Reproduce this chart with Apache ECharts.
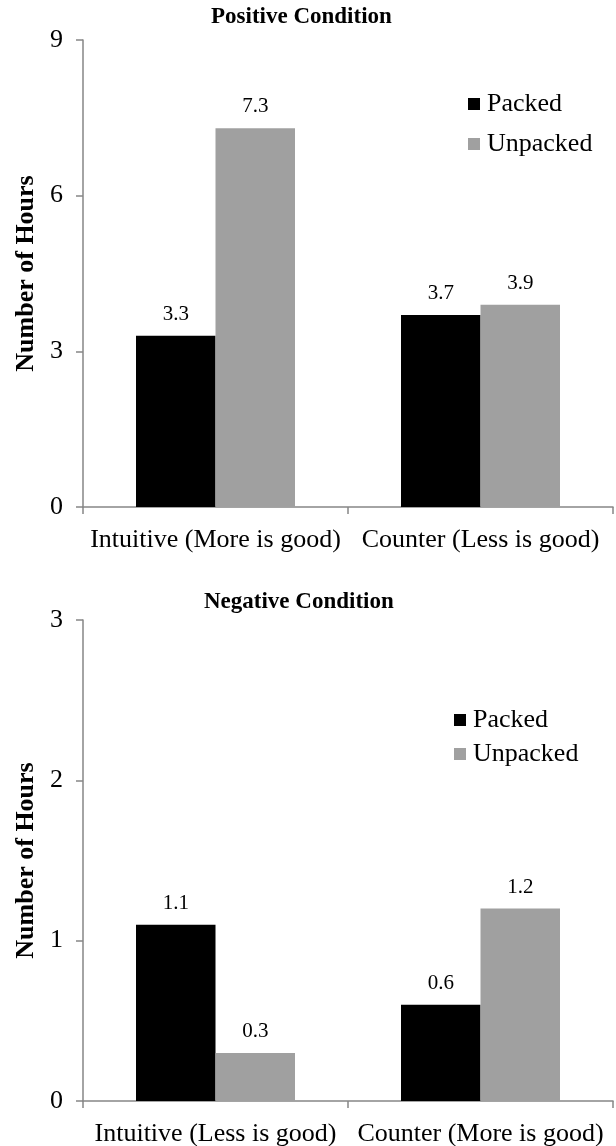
<!DOCTYPE html>
<html>
<head>
<meta charset="utf-8">
<script src="https://cdn.jsdelivr.net/npm/echarts@6/dist/echarts.min.js"></script>
<style>
  html, body { margin: 0; padding: 0; background: #fff; }
  #chart { width: 616px; height: 1146px; }
</style>
</head>
<body>
<div id="chart"></div>
<script>
// Hours reported per condition, packed vs unpacked descriptions
const positiveCategories = ['Intuitive (More is good)', 'Counter (Less is good)'];
const positivePacked = [3.3, 3.7];
const positiveUnpacked = [7.3, 3.9];
const positiveTicks = { min: 0, max: 9, interval: 3 };

const negativeCategories = ['Intuitive (Less is good)', 'Counter (More is good)'];
const negativePacked = [1.1, 0.6];
const negativeUnpacked = [0.3, 1.2];
const negativeTicks = { min: 0, max: 3, interval: 1 };

const seriesNames = ['Packed', 'Unpacked'];
const titles = ['Positive Condition', 'Negative Condition'];
const yAxisName = 'Number of Hours';

const FONT = '"Liberation Serif", "Times New Roman", serif';
const AXIS_COLOR = '#868686';
const COLORS = ['#000000', '#a0a0a0'];

const chart = echarts.init(document.getElementById('chart'), null, { renderer: 'canvas' });

function xAxisFor(idx, cats, margin) {
  return {
    type: 'category',
    gridIndex: idx,
    data: cats,
    axisLine: { show: true, lineStyle: { color: AXIS_COLOR, width: 1.5 } },
    axisTick: { show: true, inside: false, length: 7, alignWithLabel: false, lineStyle: { color: AXIS_COLOR, width: 1.5 } },
    axisLabel: { color: '#000', fontFamily: FONT, fontSize: 26, margin: margin, interval: 0 },
    splitLine: { show: false }
  };
}

function yAxisFor(idx, ticks) {
  return {
    type: 'value',
    gridIndex: idx,
    min: ticks.min,
    max: ticks.max,
    interval: ticks.interval,
    name: yAxisName,
    nameLocation: 'middle',
    nameGap: 42,
    nameTextStyle: { color: '#000', fontFamily: FONT, fontSize: 26, fontWeight: 'bold' },
    axisLine: { show: true, lineStyle: { color: AXIS_COLOR, width: 1.5 } },
    axisTick: { show: true, length: 7, lineStyle: { color: AXIS_COLOR, width: 1.5 } },
    axisLabel: { color: '#000', fontFamily: FONT, fontSize: 26, margin: 20 },
    splitLine: { show: false }
  };
}

function barSeries(name, data, idx, color) {
  return {
    name: name,
    type: 'bar',
    xAxisIndex: idx,
    yAxisIndex: idx,
    data: data,
    barGap: '0%',
    barCategoryGap: '40%',
    itemStyle: { color: color },
    label: {
      show: true,
      position: 'top',
      distance: 11,
      color: '#000',
      fontFamily: FONT,
      fontSize: 21,
      formatter: p => p.value.toFixed(1)
    },
    emphasis: { disabled: true },
    animation: false
  };
}

function legendFor(left, top, gap) {
  return {
    data: seriesNames,
    orient: 'vertical',
    left: left,
    top: top,
    padding: 0,
    itemGap: gap,
    itemWidth: 12,
    itemHeight: 12,
    icon: 'rect',
    textStyle: { color: '#000', fontFamily: FONT, fontSize: 26, lineHeight: 26, padding: [0, 0, 0, 2] },
    selectedMode: false
  };
}

chart.setOption({
  backgroundColor: '#fff',
  animation: false,
  title: [
    { text: titles[0], left: 211, top: 6, padding: 0,
      textStyle: { fontFamily: FONT, fontSize: 23, fontWeight: 'bold', color: '#000' } },
    { text: titles[1], left: 204, top: 591, padding: 0,
      textStyle: { fontFamily: FONT, fontSize: 23, fontWeight: 'bold', color: '#000' } }
  ],
  legend: [
    legendFor(468, 91, 14),
    legendFor(454, 707, 8)
  ],
  grid: [
    { left: 83, top: 40, right: 3, height: 467, containLabel: false, outerBoundsMode: 'none' },
    { left: 83, top: 620, right: 3, height: 481, containLabel: false, outerBoundsMode: 'none' }
  ],
  xAxis: [
    xAxisFor(0, positiveCategories, 20),
    xAxisFor(1, negativeCategories, 20)
  ],
  yAxis: [
    yAxisFor(0, positiveTicks),
    yAxisFor(1, negativeTicks)
  ],
  series: [
    barSeries(seriesNames[0], positivePacked, 0, COLORS[0]),
    barSeries(seriesNames[1], positiveUnpacked, 0, COLORS[1]),
    barSeries(seriesNames[0], negativePacked, 1, COLORS[0]),
    barSeries(seriesNames[1], negativeUnpacked, 1, COLORS[1])
  ]
});
</script>
</body>
</html>
